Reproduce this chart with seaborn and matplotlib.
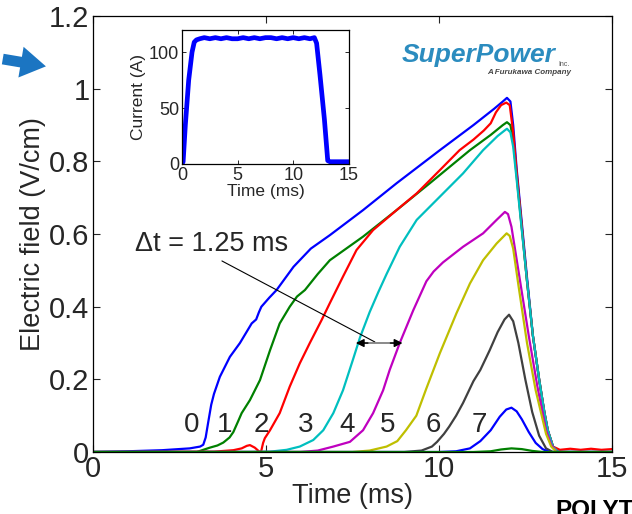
import numpy as np
import pandas as pd
import matplotlib
matplotlib.use("Agg")
import matplotlib.pyplot as plt
import seaborn as sns
from matplotlib.patches import FancyArrowPatch
from matplotlib.ticker import FuncFormatter

# ---------------- data ----------------
t0 = [0, 1, 2, 2.8, 3.1, 3.19, 3.26, 3.33, 3.42, 3.5, 3.67, 3.96, 4.25, 4.59, 4.72, 4.8, 4.87, 5.1, 5.31, 5.8, 6.3, 6.85, 7.81, 8.78, 10.03, 11.0, 11.6, 11.85, 11.97, 12.07, 12.15, 12.25, 12.55, 12.72, 12.9, 13.05, 13.15, 13.3, 13.45, 15]
e0 = [0, 0.002, 0.005, 0.01, 0.015, 0.02, 0.04, 0.08, 0.13, 0.16, 0.207, 0.262, 0.30, 0.354, 0.365, 0.385, 0.40, 0.425, 0.446, 0.51, 0.56, 0.597, 0.666, 0.74, 0.831, 0.9, 0.945, 0.965, 0.975, 0.965, 0.9, 0.78, 0.48, 0.32, 0.2, 0.11, 0.06, 0.015, 0.0, 0.0]

t1 = [0, 3.0, 3.38, 3.6, 3.77, 3.95, 4.06, 4.2, 4.3, 4.54, 4.83, 5.12, 5.4, 5.69, 5.9, 6.13, 6.5, 6.85, 7.81, 8.78, 9.74, 10.9, 11.5, 11.85, 11.97, 12.07, 12.15, 12.25, 12.55, 12.72, 12.9, 13.05, 13.15, 13.3, 13.45, 15]
e1 = [0, 0, 0.012, 0.018, 0.026, 0.04, 0.055, 0.085, 0.107, 0.143, 0.198, 0.28, 0.354, 0.40, 0.428, 0.446, 0.49, 0.528, 0.593, 0.666, 0.74, 0.831, 0.873, 0.9, 0.908, 0.9, 0.86, 0.76, 0.47, 0.32, 0.2, 0.11, 0.06, 0.015, 0.0, 0.0]

t2 = [0, 3.5, 4.06, 4.3, 4.45, 4.54, 4.68, 4.8, 4.86, 4.92, 4.97, 5.12, 5.4, 5.69, 5.98, 6.27, 6.61, 6.85, 7.23, 7.62, 8.1, 8.78, 9.36, 10.03, 10.6, 11.0, 11.3, 11.5, 11.65, 11.8, 11.95, 12.05, 12.15, 12.25, 12.55, 12.72, 12.9, 13.05, 13.15, 13.3, 13.5, 13.8, 14.1, 14.4, 14.7, 15]
e2 = [0, 0.001, 0.005, 0.01, 0.017, 0.019, 0.012, 0.002, 0.0, 0.025, 0.038, 0.06, 0.107, 0.18, 0.244, 0.30, 0.363, 0.41, 0.483, 0.556, 0.611, 0.666, 0.712, 0.776, 0.831, 0.86, 0.885, 0.905, 0.935, 0.955, 0.962, 0.955, 0.88, 0.77, 0.47, 0.32, 0.2, 0.11, 0.06, 0.015, 0.006, 0.009, 0.006, 0.009, 0.006, 0.008]

t3 = [0, 4.5, 5.12, 5.6, 5.98, 6.37, 6.66, 6.95, 7.23, 7.52, 7.72, 8.0, 8.25, 8.49, 8.87, 9.36, 10.03, 10.7, 11.28, 11.7, 11.9, 11.97, 12.07, 12.15, 12.25, 12.55, 12.72, 12.9, 13.05, 13.15, 13.3, 13.45, 15]
e3 = [0, 0, 0.001, 0.006, 0.015, 0.033, 0.06, 0.107, 0.17, 0.255, 0.315, 0.385, 0.44, 0.49, 0.565, 0.639, 0.703, 0.767, 0.831, 0.87, 0.885, 0.89, 0.88, 0.84, 0.75, 0.47, 0.32, 0.2, 0.11, 0.06, 0.015, 0.0, 0.0]

t4 = [0, 6.0, 6.5, 6.95, 7.43, 7.81, 8.1, 8.39, 8.58, 8.87, 9.26, 9.64, 9.85, 10.12, 10.7, 11.28, 11.67, 11.91, 12.0, 12.1, 12.3, 12.6, 12.85, 13.1, 13.25, 13.4, 15]
e4 = [0, 0, 0.004, 0.015, 0.028, 0.06, 0.107, 0.17, 0.226, 0.30, 0.39, 0.47, 0.497, 0.522, 0.565, 0.602, 0.639, 0.661, 0.655, 0.62, 0.5, 0.32, 0.18, 0.06, 0.02, 0.0, 0.0]

t5 = [0, 7.5, 8.0, 8.49, 8.8, 9.05, 9.35, 9.64, 10.03, 10.51, 10.9, 11.28, 11.67, 11.96, 12.05, 12.15, 12.3, 12.55, 12.8, 13.1, 13.25, 13.4, 15]
e5 = [0, 0, 0.004, 0.015, 0.03, 0.06, 0.10, 0.175, 0.272, 0.382, 0.464, 0.528, 0.574, 0.602, 0.595, 0.56, 0.46, 0.3, 0.17, 0.05, 0.015, 0.0, 0.0]

t6 = [0, 9.0, 9.5, 9.8, 9.95, 10.15, 10.3, 10.5, 10.7, 11.0, 11.2, 11.47, 11.7, 11.9, 12.03, 12.15, 12.3, 12.5, 12.7, 12.9, 13.1, 13.3, 15]
e6 = [0, 0, 0.004, 0.015, 0.028, 0.05, 0.07, 0.1, 0.135, 0.195, 0.226, 0.28, 0.33, 0.365, 0.378, 0.36, 0.3, 0.2, 0.11, 0.045, 0.01, 0.0, 0.0]

t7 = [0, 10.0, 10.5, 10.9, 11.2, 11.5, 11.76, 11.95, 12.1, 12.25, 12.4, 12.6, 12.8, 13.0, 13.2, 15]
e7 = [0, 0, 0.002, 0.01, 0.03, 0.06, 0.097, 0.117, 0.122, 0.112, 0.09, 0.055, 0.025, 0.008, 0.0, 0.0]

t8 = [0, 11.0, 11.5, 11.8, 12.1, 12.4, 12.7, 13.0, 15]
e8 = [0, 0, 0.002, 0.007, 0.01, 0.008, 0.003, 0.0, 0.0]

curve_names = ["0", "1", "2", "3", "4", "5", "6", "7", "8"]
curve_colors = ["#0000ff", "#008000", "#ff0000", "#00bfbf", "#bf00bf",
                "#bfbf00", "#404040", "#0000ff", "#008000"]
curve_t = [t0, t1, t2, t3, t4, t5, t6, t7, t8]
curve_e = [e0, e1, e2, e3, e4, e5, e6, e7, e8]

label_text = ["0", "1", "2", "3", "4", "5", "6", "7"]
label_t = [2.86, 3.82, 4.86, 6.16, 7.34, 8.53, 9.83, 11.18]
label_e = [0.075] * 8

inset_t = [0, 0.1, 0.3, 0.6, 0.9, 1.1, 1.3, 1.6, 2.0, 2.5, 3.0, 3.5, 4.0, 4.5, 5.0, 5.5, 6.0, 6.5, 7.0, 7.5, 8.0, 8.5, 9.0, 9.5, 10.0, 10.5, 11.0, 11.5, 11.9, 12.1, 12.4, 12.8, 13.1, 13.3, 14.0, 15.0]
inset_i = [0, 2, 35, 75, 100, 109, 111, 112, 113, 112, 113, 112, 113, 112, 112, 113, 112, 113, 112, 113, 113, 112, 113, 112, 113, 112, 113, 112, 113, 108, 80, 40, 3, 2, 2, 2]

rows = []
for name, ts, es in zip(curve_names, curve_t, curve_e):
    for a, b in zip(ts, es):
        rows.append((name, a, b))
df = pd.DataFrame(rows, columns=["curve", "t", "E"])
df_in = pd.DataFrame({"t": inset_t, "I": inset_i})

# ---------------- style ----------------
sns.set_style("ticks")
plt.rcParams["font.family"] = ["Liberation Sans", "DejaVu Sans"]
plt.rcParams["axes.linewidth"] = 0.9
plt.rcParams["lines.solid_joinstyle"] = "round"

fig = plt.figure(figsize=(6.32, 5.14), dpi=100)
ax = fig.add_axes([0.147, 0.1206, 0.821, 0.848])

sns.lineplot(data=df, x="t", y="E", hue="curve", palette=curve_colors,
             hue_order=curve_names, estimator=None, sort=False,
             legend=False, linewidth=1.6, ax=ax)

ax.set_xlim(0, 15)
ax.set_ylim(0, 1.2)
ax.set_xticks([0, 5, 10, 15])
ax.set_yticks([0, 0.2, 0.4, 0.6, 0.8, 1.0, 1.2])
fmt = FuncFormatter(lambda v, p: ("%g" % round(v, 2)))
ax.yaxis.set_major_formatter(fmt)
ax.tick_params(direction="in", length=5, width=0.8, labelsize=21,
               top=True, right=True, pad=2.5)
ax.set_xlabel("Time (ms)", fontsize=19.5, labelpad=0)
ax.set_ylabel("Electric field (V/cm)", fontsize=19.5, labelpad=2.5)
for s in ax.spines.values():
    s.set_visible(True)
    s.set_color("black")

for txt, tx, ey in zip(label_text, label_t, label_e):
    ax.text(tx, ey, txt, fontsize=20, ha="center", va="center")

ax.text(3.44, 0.573, "\u0394t = 1.25 ms", fontsize=19.5, ha="center", va="center")
ax.plot([3.73, 8.15], [0.526, 0.303], color="black", lw=0.8)
ax.plot([7.7, 8.85], [0.30, 0.30], color="#777777", lw=1.2)
ax.annotate("", xy=(7.6, 0.30), xytext=(7.95, 0.30),
            arrowprops=dict(arrowstyle="-|>", color="black", lw=1.0,
                            mutation_scale=12, shrinkA=0, shrinkB=0))
ax.annotate("", xy=(8.95, 0.30), xytext=(8.6, 0.30),
            arrowprops=dict(arrowstyle="-|>", color="black", lw=1.0,
                            mutation_scale=12, shrinkA=0, shrinkB=0))

# ---------------- inset ----------------
axi = fig.add_axes([0.288, 0.681, 0.264, 0.261])
sns.lineplot(data=df_in, x="t", y="I", color="#0000ff", linewidth=3.4,
             estimator=None, sort=False, ax=axi)
axi.set_xlim(0, 15)
axi.set_ylim(0, 120)
axi.set_xticks([0, 5, 10, 15])
axi.set_yticks([0, 50, 100])
axi.tick_params(direction="in", length=3, width=0.7, labelsize=13,
                top=True, right=True, pad=2)
axi.set_xlabel("Time (ms)", fontsize=12.5, labelpad=0)
axi.set_ylabel("Current (A)", fontsize=12.5, labelpad=2)
for s in axi.spines.values():
    s.set_visible(True)
    s.set_color("black")

# ---------------- decorations ----------------
fig.text(0.636, 0.893, "SuperPower", fontsize=19, fontweight="bold",
         fontstyle="italic", color="#2b8cbf", ha="left", va="center")
fig.text(0.884, 0.874, "Inc.", fontsize=5, color="#555555", ha="left", va="center")
fig.text(0.771, 0.858, "A Furukawa Company", fontsize=5.8, fontweight="bold",
         fontstyle="italic", color="#444444", ha="left", va="center")

arrow = FancyArrowPatch((0.0, 0.886), (0.077, 0.870), transform=fig.transFigure,
                        arrowstyle="simple,head_length=1.3,head_width=1.6,tail_width=0.55",
                        mutation_scale=14, color="#1b75c2", lw=0)
fig.patches.append(arrow)

fig.text(0.878, -0.006, "POLYTECHNIC", fontsize=17.5, fontweight="bold",
         color="black", ha="left", va="baseline")

fig.savefig("out.png", dpi=100)
